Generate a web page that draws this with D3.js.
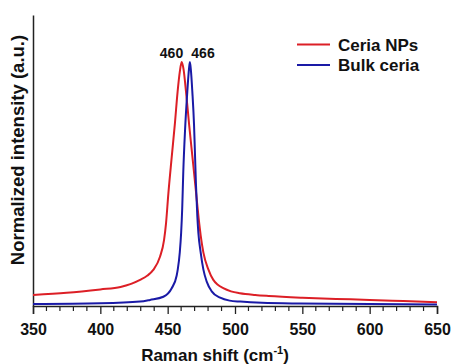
<!DOCTYPE html>
<html><head><meta charset="utf-8">
<script src="https://cdn.jsdelivr.net/npm/d3@7"></script>
<style>body{margin:0;background:#fff}svg{display:block}text{font-family:"Liberation Sans",Arial,sans-serif;font-weight:bold;fill:#111}</style>
</head><body><svg id="c" width="451" height="364"></svg>
<script>
const seriesNames = ["Ceria NPs", "Bulk ceria"];
const seriesColors = ["#dc1f26", "#1a1aa6"];
const peakLabels = ["460", "466"];
const xTicks = [350, 400, 450, 500, 550, 600, 650];

const npsShift = [350,375,400,415,429.5,435,439.3,444.3,447.3,448.8,450.5,453,455.4,457.4,459,460.4,461.8,463.6,466,468.6,471,473,474.5,476.5,480.2,483.9,487,491.3,497,503.7,515,525,550,575,600,625,650];
const npsIntensity = [.045,.054,.068,.078,.107,.125,.148,.202,.27,.34,.46,.61,.75,.88,.96,1.0,.97,.88,.74,.60,.47,.36,.29,.22,.15,.107,.088,.073,.06,.052,.045,.041,.034,.029,.025,.02,.015];

const bulkShift = [350,400,429.5,436.9,446.8,453,456.7,457.5,459,460,460.8,461.6,462.9,464.6,465.8,466.5,467.2,468.3,469.6,470.3,471,472,472.8,474.5,476.5,479,482.7,489,496,504,520,548,600,650];
const bulkIntensity = [.008,.011,.018,.025,.038,.073,.125,.15,.22,.30,.40,.55,.72,.88,.97,1.0,.97,.88,.74,.62,.50,.37,.30,.22,.15,.10,.06,.034,.022,.018,.013,.01,.008,.006];

const svg = d3.select("#c");
const x = d3.scaleLinear().domain([350, 650]).range([33, 437]);
const y = d3.scaleLinear().domain([0, 1.193]).range([306, 15]);
const FONT = '"Liberation Sans",Arial,sans-serif';

// axes
const xAxis = d3.axisBottom(x).tickValues(xTicks).tickSize(8).tickFormat(d3.format("d"));
const gx = svg.append("g").attr("transform", "translate(0,306)").call(xAxis);
gx.select(".domain").attr("stroke", "#222").attr("stroke-width", 1.5);
gx.selectAll(".tick line").attr("stroke", "#222").attr("stroke-width", 1.3);
gx.selectAll(".tick text").attr("dy", 0).attr("y", 29).style("font-size", "16px").style("font-family", FONT).style("font-weight", "bold").attr("fill", "#111");
const minor = d3.range(360, 650, 10).filter(v => v % 50 !== 0);
svg.append("g").selectAll("line").data(minor).join("line")
  .attr("x1", d => x(d)).attr("x2", d => x(d)).attr("y1", 306).attr("y2", 311)
  .attr("stroke", "#222").attr("stroke-width", 1.2);

const yAxis = d3.axisLeft(y).tickValues([]).tickSizeOuter(0);
const gy = svg.append("g").attr("transform", "translate(33,0)").call(yAxis);
gy.select(".domain").attr("stroke", "#222").attr("stroke-width", 1.5);

// curves
const line = d3.line().x(d => x(d[0])).y(d => y(d[1])).curve(d3.curveMonotoneX);
const data = [d3.zip(npsShift, npsIntensity), d3.zip(bulkShift, bulkIntensity)];
svg.append("g").selectAll("path").data(data).join("path")
  .attr("d", line).attr("fill", "none")
  .attr("stroke", (d, i) => seriesColors[i]).attr("stroke-width", 2);

// peak labels
svg.append("text").attr("x", 171.5).attr("y", 58).attr("text-anchor", "middle").style("font-size", "14px").text(peakLabels[0]);
svg.append("text").attr("x", 203).attr("y", 58).attr("text-anchor", "middle").style("font-size", "14px").text(peakLabels[1]);

// legend
seriesNames.forEach((n, i) => {
  const yy = 44.5 + i * 20.5;
  svg.append("line").attr("x1", 297).attr("x2", 330).attr("y1", yy).attr("y2", yy)
    .attr("stroke", seriesColors[i]).attr("stroke-width", 2);
  svg.append("text").attr("x", 338).attr("y", yy + 6).style("font-size", "17px").text(n);
});

// axis titles
const xt = svg.append("text").attr("x", 215).attr("y", 361).attr("text-anchor", "middle").style("font-size", "17px");
xt.append("tspan").text("Raman shift (cm");
xt.append("tspan").attr("dy", -7).style("font-size", "11px").text("-1");
xt.append("tspan").attr("dy", 7).text(")");

svg.append("text").attr("transform", "translate(24,150) rotate(-90)").attr("text-anchor", "middle")
  .style("font-size", "18.5px").text("Normalized intensity (a.u.)");
</script></body></html>
